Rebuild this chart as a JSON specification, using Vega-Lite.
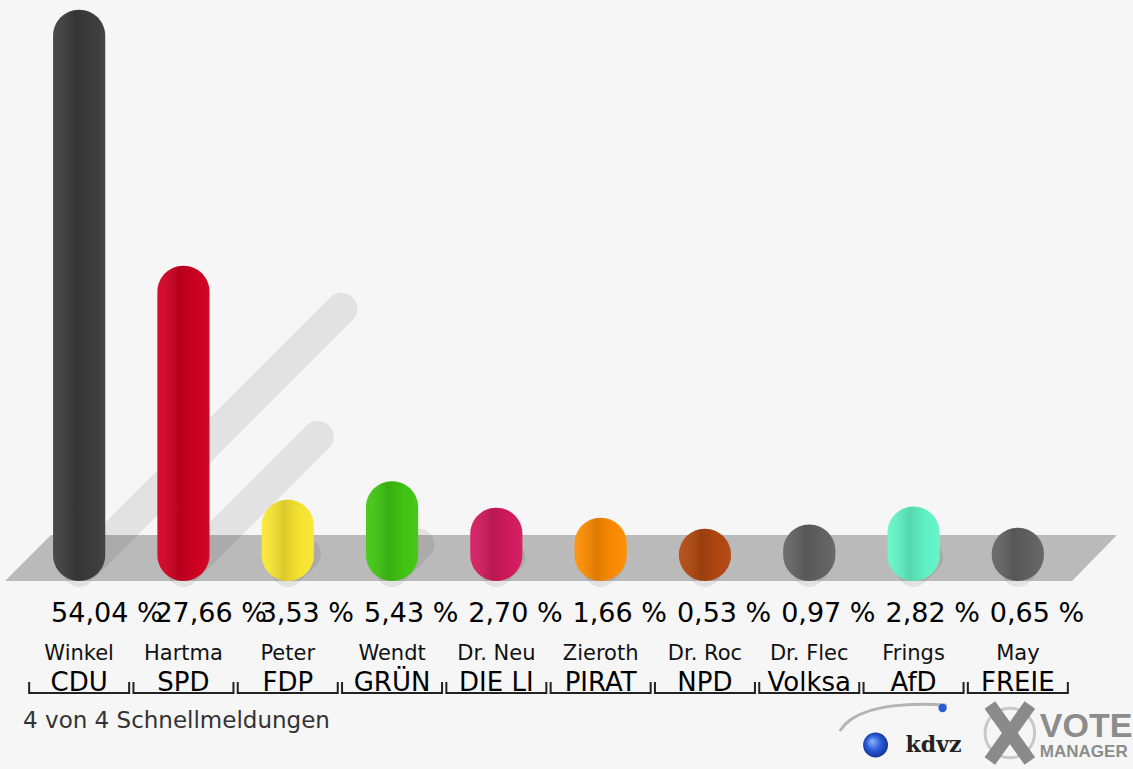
{
  "$schema": "https://vega.github.io/schema/vega-lite/v6.json",
  "width": 1133,
  "height": 769,
  "padding": 0,
  "autosize": "none",
  "background": "#f6f6f6",
  "config": {
    "view": {"stroke": null},
    "locale": {"number": {"decimal": ",", "thousands": ".", "grouping": [3], "currency": ["", " %"]}}
  },
  "data": {
    "values": [
      {"party": "CDU", "short": "CDU", "candidate": "Winkel", "value": 54.04},
      {"party": "SPD", "short": "SPD", "candidate": "Hartma", "value": 27.66},
      {"party": "FDP", "short": "FDP", "candidate": "Peter", "value": 3.53},
      {"party": "GRÜNE", "short": "GRÜN", "candidate": "Wendt", "value": 5.43},
      {"party": "DIE LINKE", "short": "DIE LI", "candidate": "Dr. Neu", "value": 2.70},
      {"party": "PIRATEN", "short": "PIRAT", "candidate": "Zieroth", "value": 1.66},
      {"party": "NPD", "short": "NPD", "candidate": "Dr. Roc", "value": 0.53},
      {"party": "Volksabstimmung", "short": "Volksa", "candidate": "Dr. Flec", "value": 0.97},
      {"party": "AfD", "short": "AfD", "candidate": "Frings", "value": 2.82},
      {"party": "FREIE WÄHLER", "short": "FREIE", "candidate": "May", "value": 0.65}
    ]
  },
  "layer": [
    {
      "data": {"values": [{}]},
      "mark": {"type": "point", "shape": "M -561.5 23 L -515.5 -23 L 550.5 -23 L 505.5 23 Z", "size": 4, "filled": true, "fill": "#bababa", "strokeWidth": 0, "opacity": 1},
      "encoding": {
        "y": {"datum": -2.474, "type": "quantitative", "axis": null, "scale": {"domain": [-24.23, 55.05], "nice": false, "zero": false}}
      }
    },
    {
      "mark": {"type": "point", "shape": "M 0 0 L 1 -1", "filled": false, "color": "#000000", "stroke": "#000000", "strokeOpacity": 0.08, "strokeWidth": 32, "strokeCap": "round", "opacity": 1},
      "encoding": {
        "x": {"field": "party", "type": "nominal", "sort": null, "axis": null, "scale": {"range": [27, 1070], "paddingInner": 0.5, "paddingOuter": 0.25}},
        "y": {"datum": -3.814, "type": "quantitative"},
        "size": {"field": "value", "type": "quantitative", "legend": null, "scale": {"type": "pow", "exponent": 2, "domain": [0, 54.04], "range": [0, 275000]}}
      }
    },
    {
      "mark": {"type": "bar", "cornerRadius": 26, "width": {"band": 1}},
      "encoding": {
        "x": {"field": "party", "type": "nominal", "sort": null},
        "y": {"field": "value", "type": "quantitative"},
        "y2": {"datum": -4.845},
        "color": {
          "field": "party", "type": "nominal", "legend": null,
          "scale": {
            "domain": ["CDU", "SPD", "FDP", "GRÜNE", "DIE LINKE", "PIRATEN", "NPD", "Volksabstimmung", "AfD", "FREIE WÄHLER"],
            "range": ["#3d3d3d", "#d10021", "#fbe832", "#41c712", "#d41b5e", "#ff8d00", "#b24810", "#646464", "#62f6c8", "#636363"]
          }
        }
      }
    },
    {
      "mark": {
        "type": "bar", "cornerRadius": 26, "width": {"band": 1},
        "fill": {"gradient": "linear", "x1": 0, "x2": 1, "y1": 0, "y2": 0,
          "stops": [
            {"offset": 0, "color": "rgba(255,255,255,0.06)"},
            {"offset": 0.42, "color": "rgba(0,0,0,0.13)"},
            {"offset": 0.75, "color": "rgba(0,0,0,0.02)"},
            {"offset": 1, "color": "rgba(255,255,255,0.04)"}
          ]}
      },
      "encoding": {
        "x": {"field": "party", "type": "nominal", "sort": null},
        "y": {"field": "value", "type": "quantitative"},
        "y2": {"datum": -4.845}
      }
    },
    {
      "mark": {"type": "text", "align": "left", "baseline": "alphabetic", "font": "DejaVu Sans", "fontSize": 27, "color": "#000000", "dx": -2},
      "encoding": {
        "x": {"field": "party", "type": "nominal", "sort": null, "bandPosition": 0},
        "y": {"datum": -9.07, "type": "quantitative"},
        "text": {"field": "value", "type": "quantitative", "format": "$.2f"}
      }
    },
    {
      "mark": {"type": "text", "align": "center", "baseline": "alphabetic", "font": "DejaVu Sans", "fontSize": 21, "color": "#111111"},
      "encoding": {
        "x": {"field": "party", "type": "nominal", "sort": null},
        "y": {"datum": -12.99, "type": "quantitative"},
        "text": {"field": "candidate", "type": "nominal"}
      }
    },
    {
      "mark": {"type": "text", "align": "center", "baseline": "alphabetic", "font": "DejaVu Sans", "fontSize": 26, "color": "#000000"},
      "encoding": {
        "x": {"field": "party", "type": "nominal", "sort": null},
        "y": {"datum": -16.19, "type": "quantitative"},
        "text": {"field": "short", "type": "nominal"}
      }
    },
    {
      "mark": {"type": "point", "shape": "M -50 -11 L -50 0 L 50 0 L 50 -11", "size": 4, "filled": false, "color": "#222222", "stroke": "#222222", "strokeWidth": 2, "opacity": 1},
      "encoding": {
        "x": {"field": "party", "type": "nominal", "sort": null},
        "y": {"datum": -16.39, "type": "quantitative"}
      }
    },
    {
      "data": {"values": [{"note": "4 von 4 Schnellmeldungen"}]},
      "mark": {"type": "text", "align": "left", "baseline": "alphabetic", "font": "DejaVu Sans", "fontSize": 23, "color": "#333333", "dx": -30},
      "encoding": {
        "x": {"datum": "CDU", "type": "nominal", "bandPosition": 0},
        "y": {"datum": -20.0, "type": "quantitative"},
        "text": {"field": "note", "type": "nominal"}
      }
    },
    {
      "data": {"values": [{}]},
      "mark": {"type": "point", "shape": "M -48 12 Q -28 -18 57 -13", "size": 4, "filled": false, "color": "#b4b4b4", "stroke": "#b4b4b4", "strokeWidth": 3, "strokeCap": "round", "opacity": 1, "xOffset": -25},
      "encoding": {
        "x": {"datum": "AfD", "type": "nominal"},
        "y": {"datum": -18.97, "type": "quantitative"}
      }
    },
    {
      "data": {"values": [{}]},
      "mark": {"type": "point", "shape": "circle", "size": 620, "filled": true, "opacity": 1, "strokeWidth": 0, "xOffset": -38,
        "fill": {"gradient": "radial", "x1": 0.35, "y1": 0.35, "r1": 0, "x2": 0.5, "y2": 0.5, "r2": 0.6,
          "stops": [{"offset": 0, "color": "#8fb4ff"}, {"offset": 0.5, "color": "#2a5bd7"}, {"offset": 1, "color": "#0d2a80"}]}},
      "encoding": {
        "x": {"datum": "AfD", "type": "nominal"},
        "y": {"datum": -21.75, "type": "quantitative"}
      }
    },
    {
      "data": {"values": [{}]},
      "mark": {"type": "point", "shape": "circle", "size": 70, "filled": true, "opacity": 1, "strokeWidth": 0, "xOffset": 29, "fill": "#2a5bd7"},
      "encoding": {
        "x": {"datum": "AfD", "type": "nominal"},
        "y": {"datum": -17.94, "type": "quantitative"}
      }
    },
    {
      "data": {"values": [{"logo": "kdvz"}]},
      "mark": {"type": "text", "align": "center", "baseline": "alphabetic", "font": "DejaVu Serif", "fontWeight": "bold", "fontSize": 22, "color": "#222222", "dx": 20},
      "encoding": {
        "x": {"datum": "AfD", "type": "nominal"},
        "y": {"datum": -22.47, "type": "quantitative"},
        "text": {"field": "logo", "type": "nominal"}
      }
    },
    {
      "data": {"values": [{}]},
      "mark": {"type": "point", "shape": "circle", "size": 2460, "filled": false, "color": "#c8c8c8", "stroke": "#c8c8c8", "strokeWidth": 3, "opacity": 1, "xOffset": -8},
      "encoding": {
        "x": {"datum": "FREIE WÄHLER", "type": "nominal"},
        "y": {"datum": -20.52, "type": "quantitative"}
      }
    },
    {
      "data": {"values": [{}]},
      "mark": {"type": "point", "shape": "M -20 -28 L 20 28 M 20 -28 L -20 28", "size": 4, "filled": false, "color": "#8a8a8a", "stroke": "#8a8a8a", "strokeWidth": 13, "opacity": 1, "xOffset": -8},
      "encoding": {
        "x": {"datum": "FREIE WÄHLER", "type": "nominal"},
        "y": {"datum": -20.52, "type": "quantitative"}
      }
    },
    {
      "data": {"values": [{"logo": "VOTE"}]},
      "mark": {"type": "text", "align": "left", "baseline": "alphabetic", "font": "Liberation Sans", "fontWeight": "bold", "fontSize": 34, "color": "#8c8c8c", "dx": 22},
      "encoding": {
        "x": {"datum": "FREIE WÄHLER", "type": "nominal"},
        "y": {"datum": -20.93, "type": "quantitative"},
        "text": {"field": "logo", "type": "nominal"}
      }
    },
    {
      "data": {"values": [{"logo": "MANAGER"}]},
      "mark": {"type": "text", "align": "left", "baseline": "alphabetic", "font": "Liberation Sans", "fontWeight": "bold", "fontSize": 17, "color": "#8c8c8c", "dx": 22},
      "encoding": {
        "x": {"datum": "FREIE WÄHLER", "type": "nominal"},
        "y": {"datum": -22.99, "type": "quantitative"},
        "text": {"field": "logo", "type": "nominal"}
      }
    }
  ]
}
